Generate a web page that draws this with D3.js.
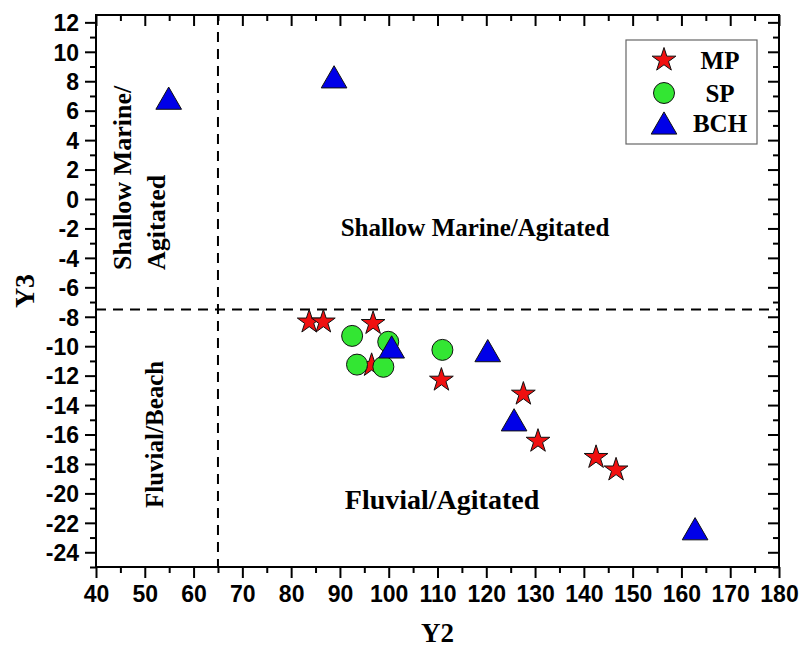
<!DOCTYPE html>
<html>
<head>
<meta charset="utf-8">
<script src="https://cdn.jsdelivr.net/npm/d3@7"></script>
<style>
    body { margin: 0; background: #fff; }
    svg { display: block; }
    .tick-label { font-family: "Liberation Sans", Arial, sans-serif; font-weight: bold; font-size: 23px; }
    .serif { font-family: "Liberation Serif", "Times New Roman", serif; font-weight: bold; }
</style>
</head>
<body>
<div id="svg_layer"></div>
<script>
// データ (Y2, Y3)
var mpY2 = [83.7, 86.6, 96.8, 96.5, 110.8, 127.6, 130.6, 142.5, 146.6];
var mpY3 = [-8.35, -8.35, -8.45, -11.3, -12.3, -13.25, -16.45, -17.55, -18.4];
var spY2 = [92.5, 99.9, 93.5, 98.9, 111.0];
var spY3 = [-9.3, -9.7, -11.25, -11.4, -10.25];
var bchY2 = [54.9, 88.8, 100.6, 120.3, 125.7, 162.8];
var bchY3 = [6.85, 8.3, -10.05, -10.3, -15.0, -22.4];

var xTicks = d3.range(40, 181, 10);
var xMinor = d3.range(45, 180, 10);
var yTicks = d3.range(-24, 13, 2);
var yMinor = d3.range(-25, 12, 2);

var y2Limit = 65;   // 縦の境界
var y3Limit = -7.5; // 横の境界

var W = 802, H = 649;
var pL = 96, pR = 779, pT = 15, pB = 567;

var x = d3.scaleLinear().domain([40, 180]).range([pL, pR]);
var y = d3.scaleLinear().domain([-25, 12.5]).range([pB, pT]);

var svg = d3.select("#svg_layer").append("svg")
    .attr("width", W).attr("height", H);

// ハイフンのマイナス
function fmt(d) { return String(d); }

function drawAxis(axis, pos, values, size) {
    var g = svg.append("g")
        .attr("transform", pos)
        .call(axis.tickValues(values).tickSize(size).tickSizeOuter(0));
    g.select(".domain").remove();
    g.selectAll("line").attr("stroke", "#000").attr("stroke-width", 2);
    return g;
}

// 下・左 (外向き)
var gx = drawAxis(d3.axisBottom(x).tickFormat(fmt), "translate(0," + pB + ")", xTicks, 11);
gx.selectAll("text").attr("class", "tick-label").attr("fill", "#000").attr("y", 19).attr("dy", "0.71em");
drawAxis(d3.axisBottom(x).tickFormat(""), "translate(0," + pB + ")", xMinor, 6);

var gy = drawAxis(d3.axisLeft(y).tickFormat(fmt), "translate(" + pL + ",0)", yTicks, 11);
gy.selectAll("text").attr("class", "tick-label").attr("fill", "#000").attr("x", -17).attr("dy", "0.36em");
drawAxis(d3.axisLeft(y).tickFormat(""), "translate(" + pL + ",0)", yMinor, 6);

// 上・右 (内向き)
drawAxis(d3.axisBottom(x).tickFormat(""), "translate(0," + pT + ")", xTicks, 11);
drawAxis(d3.axisBottom(x).tickFormat(""), "translate(0," + pT + ")", xMinor, 6);
drawAxis(d3.axisRight(y).tickFormat(""), "translate(" + pR + ",0)", yTicks, -11);
drawAxis(d3.axisRight(y).tickFormat(""), "translate(" + pR + ",0)", yMinor, -6);

// 枠
svg.append("rect")
    .attr("x", pL).attr("y", pT)
    .attr("width", pR - pL).attr("height", pB - pT)
    .attr("fill", "none").attr("stroke", "#000").attr("stroke-width", 2);

// 境界線
svg.append("line")
    .attr("x1", x(y2Limit)).attr("x2", x(y2Limit))
    .attr("y1", pT).attr("y2", pB)
    .attr("stroke", "#000").attr("stroke-width", 2).attr("stroke-dasharray", "10,7");
svg.append("line")
    .attr("x1", pL).attr("x2", pR)
    .attr("y1", y(y3Limit)).attr("y2", y(y3Limit))
    .attr("stroke", "#000").attr("stroke-width", 2).attr("stroke-dasharray", "10,7");

// 軸タイトル
svg.append("text").attr("class", "serif")
    .attr("x", (pL + pR) / 2).attr("y", 642)
    .attr("text-anchor", "middle").attr("font-size", 27).text("Y2");
svg.append("text").attr("class", "serif")
    .attr("transform", "translate(34," + ((pT + pB) / 2) + ") rotate(-90)")
    .attr("text-anchor", "middle").attr("font-size", 28).text("Y3");

// 領域ラベル
function areaLabel(tx, ty, rot, size, anchor, str) {
    svg.append("text").attr("class", "serif")
        .attr("transform", "translate(" + tx + "," + ty + ")" + (rot ? " rotate(-90)" : ""))
        .attr("text-anchor", anchor).attr("font-size", size).text(str);
}
areaLabel(475, 236, false, 25, "middle", "Shallow Marine/Agitated");
areaLabel(442, 509, false, 28, "middle", "Fluvial/Agitated");
areaLabel(131, 270, true, 26, "start", "Shallow Marine/");
areaLabel(165, 270, true, 26, "start", "Agitated");
areaLabel(163, 508, true, 25, "start", "Fluvial/Beach");

// シンボル
var star = d3.symbol().type(d3.symbolStar).size(175);
var tri = d3.symbol().type(d3.symbolTriangle).size(285);
var triShift = Math.sqrt(285 / (Math.sqrt(3) * 3)) / 2; // bbox中心に合わせる

function drawStar(g, px, py) {
    g.append("path").attr("d", star())
        .attr("transform", "translate(" + px + "," + py + ")")
        .attr("fill", "#f01010").attr("stroke", "#111").attr("stroke-width", 1);
}
function drawCircle(g, px, py) {
    g.append("circle").attr("cx", px).attr("cy", py).attr("r", 10.5)
        .attr("fill", "#33e633").attr("stroke", "#111").attr("stroke-width", 1);
}
function drawTri(g, px, py) {
    g.append("path").attr("d", tri())
        .attr("transform", "translate(" + px + "," + (py + triShift) + ")")
        .attr("fill", "#0000e8").attr("stroke", "#111").attr("stroke-width", 1);
}

var pts = svg.append("g");
mpY2.forEach(function (v, i) { drawStar(pts, x(v), y(mpY3[i])); });
spY2.forEach(function (v, i) { drawCircle(pts, x(v), y(spY3[i])); });
bchY2.forEach(function (v, i) { drawTri(pts, x(v), y(bchY3[i])); });

// 凡例
var legend = svg.append("g");
legend.append("rect")
    .attr("x", 626).attr("y", 40).attr("width", 131).attr("height", 104)
    .attr("fill", "#fff").attr("stroke", "#666").attr("stroke-width", 1.2);
var names = ["MP", "SP", "BCH"];
var rows = [60, 93, 123];
drawStar(legend, 664, rows[0]);
drawCircle(legend, 664, rows[1]);
drawTri(legend, 664, rows[2]);
names.forEach(function (n, i) {
    legend.append("text").attr("class", "serif")
        .attr("x", 720).attr("y", rows[i] + 9)
        .attr("text-anchor", "middle").attr("font-size", 25).text(n);
});
</script>
</body>
</html>
